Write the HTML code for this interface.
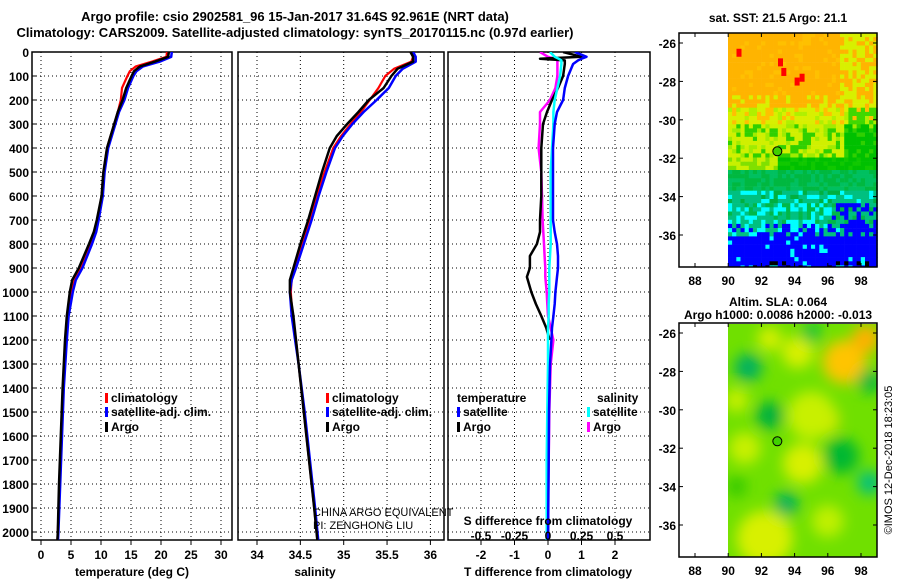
<!DOCTYPE html>
<html><head><meta charset="utf-8">
<style>
body{margin:0;background:#fff;}
svg{display:block;font-family:"Liberation Sans",sans-serif;font-weight:bold;}
</style></head>
<body>
<svg id="c" width="900" height="580" viewBox="0 0 900 580" xmlns="http://www.w3.org/2000/svg">
<defs>
<clipPath id="cp1"><rect x="32" y="52" width="200" height="488"/></clipPath>
<clipPath id="cp2"><rect x="238" y="52" width="206" height="488"/></clipPath>
<clipPath id="cp3"><rect x="448" y="52" width="202" height="488"/></clipPath>
<clipPath id="cpm2"><rect x="728" y="324" width="149" height="233"/></clipPath>
<filter id="blur"><feGaussianBlur stdDeviation="7"/></filter>
</defs>
<text x="295" y="21" text-anchor="middle" font-size="13">Argo profile: csio 2902581_96 15-Jan-2017 31.64S 92.961E (NRT data)</text>
<text x="295" y="37" text-anchor="middle" font-size="13">Climatology: CARS2009. Satellite-adjusted climatology: synTS_20170115.nc (0.97d earlier)</text>
<g id="g1"></g>
<g id="g2"></g>
<g id="g3"></g>
<g id="gm1"></g>
<g id="gm2"></g>
<text x="313" y="516" font-size="11" font-weight="normal">CHINA ARGO EQUIVALENT</text>
<text x="313" y="529" font-size="11" font-weight="normal">PI: ZENGHONG LIU</text>
<text transform="translate(892,460) rotate(-90)" text-anchor="middle" font-size="11" font-weight="normal">©IMOS 12-Dec-2018 18:23:05</text>
</svg>
<script>
// ---- data ----
const depthT = [0,20,40,60,80,100,150,200,250,300,400,500,600,700,750,800,900,950,1000,1100,1200,1400,1600,1800,2000,2050];
const tempArgo = [21.3,21.2,19,16.5,15.5,15.1,14.2,13.6,12.8,12.2,11,10.4,10.1,9.3,8.8,8.0,6.3,5.2,4.8,4.3,4.0,3.6,3.3,3.0,2.8,2.7];
const tempClim = [21.0,20.9,18.5,15.8,14.8,14.4,13.5,13.3,12.8,12.2,11,10.4,10.1,9.4,9.0,8.3,6.7,5.6,5.1,4.5,4.2,3.7,3.4,3.1,2.8,2.7];
const tempSat  = [21.8,21.7,19.8,17.0,15.9,15.4,14.5,13.9,13.0,12.4,11.2,10.6,10.3,9.6,9.2,8.5,6.9,5.8,5.3,4.6,4.3,3.8,3.5,3.2,2.9,2.8];
const depthS = [0,20,40,70,100,150,200,250,300,350,400,500,600,700,800,900,950,1000,1100,1200,1300,1500,1700,1900,2050];
const salArgo = [35.77,35.80,35.80,35.62,35.55,35.46,35.29,35.17,35.04,34.92,34.84,34.75,34.67,34.59,34.50,34.42,34.38,34.38,34.42,34.45,34.48,34.54,34.60,34.66,34.70];
const salClim = [35.77,35.80,35.78,35.58,35.48,35.40,35.30,35.20,35.08,34.97,34.88,34.78,34.69,34.61,34.52,34.44,34.40,34.39,34.41,34.45,34.48,34.54,34.60,34.66,34.70];
const salSat  = [35.80,35.83,35.83,35.68,35.60,35.52,35.38,35.23,35.10,34.99,34.90,34.80,34.71,34.63,34.54,34.45,34.40,34.38,34.40,34.44,34.48,34.55,34.61,34.67,34.71];
const depthD = [0,20,28,35,50,100,150,200,250,300,400,500,600,700,750,800,850,900,937,1000,1050,1100,1150,1200,1300,1500,1700,1900,2050];
const dTArgo = [0.45,1.0,-0.24,0.5,0.5,0.45,0.3,0.12,-0.03,-0.15,-0.2,-0.2,-0.2,-0.24,-0.24,-0.33,-0.54,-0.54,-0.63,-0.5,-0.36,-0.2,-0.05,0.05,null,null,null,0.0,0.0];
const dTSat  = [0.8,1.15,1.0,0.9,0.75,0.6,0.5,0.45,0.27,0.2,0.15,0.15,0.15,0.15,0.2,0.27,0.3,0.3,0.27,0.22,0.2,0.16,0.12,0.1,0.06,0.03,0.02,0.01,0.0];
const dSArgo = [-0.06,0.0,0.05,0.07,0.07,0.07,0.055,0.015,-0.06,-0.06,-0.07,-0.05,-0.045,-0.04,-0.035,-0.03,-0.025,-0.02,-0.02,-0.01,-0.005,0.0,0.02,0.04,0.02,0.01,0.005,0.0,0.0];
const dSSat  = [0.015,0.05,0.08,0.1,0.1,0.09,0.07,0.05,0.04,0.04,0.03,0.02,0.02,0.02,0.02,0.02,0.015,0.01,0.01,0.01,0.005,0.005,0.0,0.0,0.0,-0.005,-0.01,-0.01,-0.01];
const depthTicks = [0,100,200,300,400,500,600,700,800,900,1000,1100,1200,1300,1400,1500,1600,1700,1800,1900,2000];
const tTicks = [0,5,10,15,20,25,30];
const sTicks = [34,34.5,35,35.5,36];
const sTickLabels = ["34","34.5","35","35.5","36"];
const tdTicks = [-2,-1,0,1,2];
const sdTicks = [-0.5,-0.25,0,0.25,0.5];
const sdTickLabels = ["-0.5","-0.25","0","0.25","0.5"];
const latTicks = [-26,-28,-30,-32,-34,-36];
const lonTicks = [88,90,92,94,96,98];

// ---- scales ----
const Y = d => 52 + d*0.24;
const XT = t => 41 + 6*t;
const XS = s => 257 + 86.7*(s-34);
const XTD = v => 548 + 33.5*v;
const XSD = v => 548 + 134*v;
const LON = l => 695 + 16.6*(l-88);
const LAT = (a,top) => top + 10 + 19.2*(-26 - a);

const NS="http://www.w3.org/2000/svg";
function mk(tag, attrs, parent){const e=document.createElementNS(NS,tag);for(const k in attrs)e.setAttribute(k,attrs[k]);parent.appendChild(e);return e;}

function panel(g, x0, x1, xt, xscale, labels){
  for(const d of depthTicks){
    const l=mk('line',{x1:x0,x2:x1,y1:Y(d),y2:Y(d),stroke:'#000','stroke-width':1,'stroke-dasharray':'1,3'},g);
    
    
  }
  xt.forEach((v,i)=>{
    const x=xscale(v);
    const l=mk('line',{x1:x,x2:x,y1:52,y2:540,stroke:'#000','stroke-width':1,'stroke-dasharray':'1,3'},g);
    
    
    mk('line',{x1:x,x2:x,y1:540,y2:545,stroke:'#000'},g);
    if(labels){
      const t=mk('text',{x:x,y:559,'text-anchor':'middle','font-size':12},g);
      t.textContent=labels[i];
      
      
    }
  });
  const r=mk('rect',{x:x0,y:52,width:x1-x0,height:488,fill:'none',stroke:'#000','stroke-width':1.5},g);
  
  
}
function series(g, depths, vals, xscale, color, w, clip, name){
  let d='', pen=false;
  depths.forEach((dep,i)=>{
    const v=vals[i];
    if(v===null||v===undefined){pen=false;return;}
    d+=(pen?'L':'M')+xscale(v).toFixed(1)+','+Y(dep).toFixed(1);pen=true;
  });
  const p=mk('path',{d:d,fill:'none',stroke:color,'stroke-width':w,'clip-path':'url(#'+clip+')','stroke-linejoin':'round'},g);
  
  
}
function legend(g,x,y,color,label){
  mk('rect',{x:x,y:y-9,width:3,height:10,fill:color},g);
  const t=mk('text',{x:x+6,y:y,'font-size':12},g);t.textContent=label;
  
  
}
function txt(g,x,y,s,anchor,size,name){
  const t=mk('text',{x:x,y:y,'text-anchor':anchor,'font-size':size},g);t.textContent=s;
  
  
  return t;
}

const g1=document.getElementById('g1'),g2=document.getElementById('g2'),g3=document.getElementById('g3');
for(const d of depthTicks){ txt(g1,29,Y(d)+5,String(d),'end',12,'y-tick-label'); mk('line',{x1:32,x2:36,y1:Y(d),y2:Y(d),stroke:'#000'},g1);}
panel(g1,32,232,tTicks,XT,tTicks.map(String));
series(g1,depthT,tempClim,XT,'#f00',2.2,'cp1','temp-climatology-line');
series(g1,depthT,tempSat,XT,'#00f',2.5,'cp1','temp-satellite-line');
series(g1,depthT,tempArgo,XT,'#000',2.5,'cp1','temp-argo-line');
txt(g1,132,576,'temperature (deg C)','middle',12,'x-axis-title');
legend(g1,105,402,'#f00','climatology');legend(g1,105,416,'#00f','satellite-adj. clim.');legend(g1,105,431,'#000','Argo');

panel(g2,238,444,sTicks,XS,sTickLabels);
series(g2,depthS,salClim,XS,'#f00',2.2,'cp2','sal-climatology-line');
series(g2,depthS,salSat,XS,'#00f',2.5,'cp2','sal-satellite-line');
series(g2,depthS,salArgo,XS,'#000',2.5,'cp2','sal-argo-line');
txt(g2,315,576,'salinity','middle',12,'x-axis-title');
legend(g2,326,402,'#f00','climatology');legend(g2,326,416,'#00f','satellite-adj. clim.');legend(g2,326,431,'#000','Argo');

panel(g3,448,650,tdTicks,XTD,tdTicks.map(String));
series(g3,depthD,dSArgo,XSD,'#f0f',2.5,'cp3','sal-argo-diff-line');
series(g3,depthD,dTArgo,XTD,'#000',2.5,'cp3','temp-argo-diff-line');
series(g3,depthD,dSSat,XSD,'#0ff',2.5,'cp3','sal-satellite-diff-line');
series(g3,depthD,dTSat,XTD,'#00f',2.5,'cp3','temp-satellite-diff-line');
sdTicks.forEach((v,i)=>txt(g3,XSD(v),540,sdTickLabels[i],'middle',12,'s-diff-tick-label'));
txt(g3,548,525,'S difference from climatology','middle',12,'s-diff-axis-title');
txt(g3,548,576,'T difference from climatology','middle',12,'x-axis-title');
txt(g3,457,402,'temperature','start',12,'legend-title-temperature');
legend(g3,457,416,'#00f','satellite');legend(g3,457,431,'#000','Argo');
txt(g3,597,402,'salinity','start',12,'legend-title-salinity');
legend(g3,587,416,'#0ff','satellite');legend(g3,587,431,'#f0f','Argo');

// ---- maps ----
function mapFrame(g,top,title1,title2){
  if(title2){txt(g,778,top-17,title1,'middle',12,'map-title');txt(g,778,top-4,title2,'middle',12,'map-subtitle');}
  else txt(g,778,top-11,title1,'middle',12,'map-title');
  mk('rect',{x:679,y:top,width:198,height:234,fill:'none',stroke:'#000','stroke-width':1.5},g);
  for(const a of latTicks){const y=LAT(a,top);mk('line',{x1:679,x2:683,y1:y,y2:y,stroke:'#000'},g);mk('line',{x1:873,x2:877,y1:y,y2:y,stroke:'#000'},g);txt(g,676,y+5,String(a),'end',12,'lat-tick-label');}
  for(const l of lonTicks){const x=LON(l);mk('line',{x1:x,x2:x,y1:top,y2:top+4,stroke:'#000'},g);mk('line',{x1:x,x2:x,y1:top+230,y2:top+234,stroke:'#000'},g);txt(g,x,top+252,String(l),'middle',12,'lon-tick-label');}
  const c=mk('circle',{cx:LON(92.96),cy:LAT(-31.64,top),r:4.5,fill:'#40d000',stroke:'#000'},g);
  
  
}
const gm1=document.getElementById('gm1'),gm2=document.getElementById('gm2');
function h(i,j){let n=(i*374761393+j*668265263)^0x5bd1e995;n=(n^(n>>>13))*1274126177;n=n^(n>>>16);return ((n>>>0)%1000)/1000;}
const top1=33, cs=4.15;
for(let r=0;r<57;r++){for(let c=0;c<36;c++){
  const x=728+c*cs, y=top1+r*cs; if(y>top1+234) continue;
  const lat=-25.5-(r*cs)/19.2, lon=90+c*0.25, n=h(r,c);
  let col;
  if(lat>-29.3){col = (lon>96.5&&n<0.6)?'#d8f000':(n<0.15?'#ffc000':'#ffb400'); if(lat<-28.6&&n<0.35)col='#d8f000';}
  else if(lat>-30.2){col=n<0.5?'#d8f000':(n<0.75?'#ffc000':'#b0f000'); if(lon>97&&n<0.6)col='#40d800';}
  else if(lat>-31.8){col=n<0.5?'#d0f000':(n<0.75?'#a0ec00':'#30d000'); if(lon>96.8&&n<0.7)col='#00c000';}
  else if(lat>-32.6){col=(lon<92.8)?(n<0.5?'#c8f000':'#80e000'):(n<0.6?'#00c000':'#10c800');}
  else if(lat>-33.5){col=n<0.5?'#00b840':'#00c060';}
  else if(lat>-34.3){col=n<0.6?'#00c080':(n<0.8?'#00b040':'#00ffff');}
  else if(lat>-35.3){col=n<0.45?'#00ffff':(n<0.8?'#00c080':'#00b848'); if(lon>96&&n<0.5)col='#0000ff';}
  else if(lat>-36.0){col=n<0.45?'#0000ff':(n<0.75?'#00ffff':'#00c080'); if(lon>96.5&&n<0.8)col='#0000ff';}
  else {col=n<0.88?'#0000ff':'#00ffff'; if(lat<-37.3&&n<0.2)col='#000';}
  mk('rect',{x:x.toFixed(1),y:y.toFixed(1),width:cs+0.3,height:Math.min(cs+0.3,top1+234-y),fill:col},gm1);
}}
[[90.5,-26.3],[93.0,-26.8],[93.2,-27.3],[94.3,-27.6],[94.0,-27.8]].forEach(p=>mk('rect',{x:LON(p[0]),y:LAT(p[1],top1),width:5,height:8,fill:'#f00'},gm1));
mapFrame(gm1,top1,'sat. SST: 21.5 Argo: 21.1');
const top2=323;
const gb=mk('g',{'clip-path':'url(#cpm2)'},gm2);
mk('rect',{x:728,y:top2,width:149,height:234,fill:'#70e000'},gb);
const gbb=mk('g',{filter:'url(#blur)'},gb);
const blobs=[[97,-27.5,22,'#ffc400'],[98.3,-26.3,14,'#ffb000'],[94.2,-27,16,'#d8f000'],[92.5,-26.3,12,'#d8f000'],[95.7,-30.5,16,'#e8e000'],[95,-30.3,24,'#c8f000'],[94.5,-32.8,20,'#d8f000'],[91,-32,16,'#c8f000'],[92.2,-36.7,16,'#ffd000'],[92.2,-36.7,28,'#d8f000'],[96,-35.8,16,'#c0f000'],[90.5,-29.5,12,'#c8f000'],[91.2,-27.8,14,'#00b060'],[92.5,-30.3,14,'#00b040'],[96.8,-32.4,18,'#00b830'],[98.5,-33.8,12,'#00c080'],[93.5,-34.9,12,'#00b060'],[95,-26,10,'#00c040'],[98.5,-28.5,12,'#00b840'],[90.5,-34,10,'#30c800']];
blobs.forEach(b=>mk('circle',{cx:LON(b[0]),cy:LAT(b[1],top2),r:b[2],fill:b[3]},gbb));
mapFrame(gm2,top2,'Altim. SLA: 0.064','Argo h1000: 0.0086 h2000: -0.013');
</script>
</body></html>
